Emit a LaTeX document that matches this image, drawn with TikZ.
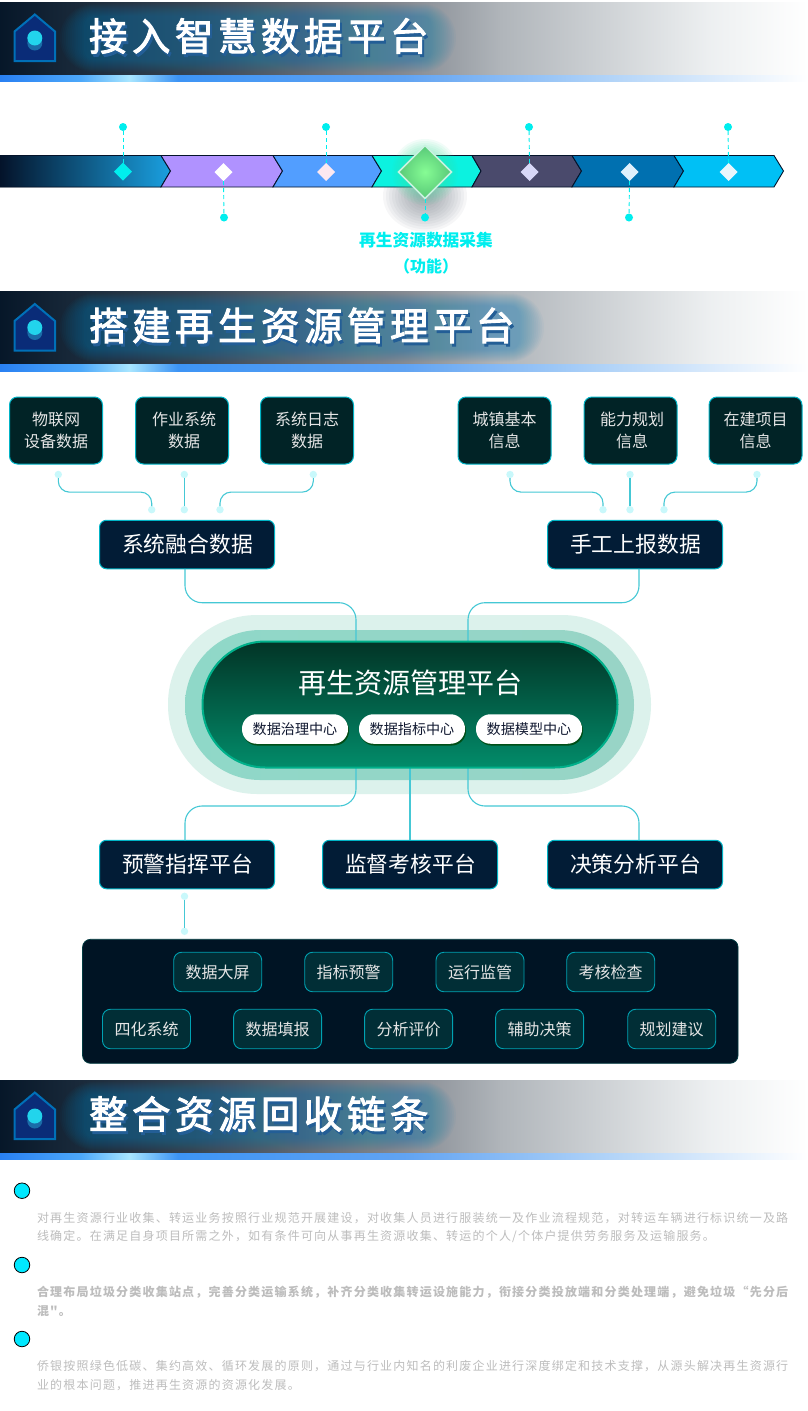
\documentclass[tikz,border=0pt]{standalone}
\usepackage{fontspec}
\setmainfont{Noto Sans CJK SC}
\newfontfamily\headfont[LetterSpace=12,FakeBold=2.4]{Noto Sans CJK SC}
\newfontfamily\bodyfont[LetterSpace=10]{Noto Sans CJK SC}
\usetikzlibrary{shapes.geometric,calc}
\definecolor{cyanline}{HTML}{00EEEE}
\definecolor{edgecol}{HTML}{00B4C6}
\definecolor{connline}{HTML}{45C8D5}
\definecolor{dotlight}{HTML}{C9F8FB}
\definecolor{srcfill}{HTML}{012326}
\definecolor{midfill}{HTML}{021C36}
\definecolor{tagfill}{HTML}{012E36}
\definecolor{pilltext}{HTML}{101830}
\definecolor{parac}{HTML}{BDBDBD}
\definecolor{HeadGlow}{HTML}{0E7FB8}
\definecolor{HeadShadow}{HTML}{235E96}
\definecolor{HouseEdge}{HTML}{0070B8}
\definecolor{HouseFill}{HTML}{0A2C78}
\definecolor{HouseDark}{HTML}{1A6CA8}
\definecolor{HouseLight}{HTML}{22D4EC}
\definecolor{AA}{HTML}{B092FF}
\definecolor{BB}{HTML}{529EFF}
\definecolor{CC}{HTML}{0CF2E0}
\definecolor{DD}{HTML}{4A4A6C}
\definecolor{EE}{HTML}{0070B0}
\definecolor{FF}{HTML}{00C0F5}
\definecolor{BarL}{HTML}{04132A}
\definecolor{BarM}{HTML}{0D6CA8}
\definecolor{BarR}{HTML}{1AA0E0}
\definecolor{GemC}{HTML}{FDE8F0}
\definecolor{GemD}{HTML}{D8D8F8}
\definecolor{GemE}{HTML}{DFF0FC}
\definecolor{GemF}{HTML}{EAF6FC}
\definecolor{GemEdge}{HTML}{C8F2E0}
\definecolor{GemIn}{HTML}{86FC94}
\definecolor{GemOut}{HTML}{58C878}
\definecolor{GlowG}{HTML}{40E0A0}
\definecolor{GlowS}{HTML}{6A7480}
\definecolor{BulletC}{HTML}{00E8FF}
\definecolor{PillOuter}{HTML}{DCF2EC}
\definecolor{PillMidA}{HTML}{8FD8C8}
\definecolor{PillMidB}{HTML}{98D4C6}
\definecolor{PillEdge}{HTML}{00B08A}
\definecolor{PillTop}{HTML}{023426}
\definecolor{PillBot}{HTML}{028C6A}
\definecolor{PanelEdge}{HTML}{003A40}
\definecolor{PanelFill}{HTML}{001424}
\pgfdeclarehorizontalshading{headgrad}{100bp}{
 rgb(0bp)=(.025,.09,.16);
 rgb(25bp)=(.025,.09,.16);
 rgb(37bp)=(.21,.27,.33);
 rgb(50bp)=(.52,.54,.57);
 rgb(56bp)=(.69,.71,.73);
 rgb(69bp)=(.93,.94,.945);
 rgb(75bp)=(1,1,1);
 rgb(100bp)=(1,1,1)}
\pgfdeclarehorizontalshading{stripgrad}{100bp}{
 rgb(0bp)=(.16,.50,.95);
 rgb(25bp)=(.16,.50,.95);
 rgb(30bp)=(.30,.66,.98);
 rgb(33bp)=(.66,.90,1);
 rgb(36bp)=(.24,.58,.96);
 rgb(50bp)=(.38,.64,.95);
 rgb(62bp)=(.68,.82,.97);
 rgb(75bp)=(1,1,1);
 rgb(100bp)=(1,1,1)}
\tikzset{
 x=1pt,y=-1pt,
 every node/.style={inner sep=0pt,outer sep=0pt},
 dot/.style={circle,fill=cyanline,minimum size=8pt},
 soft/.style={circle,fill=dotlight,minimum size=7.4pt},
 dashline/.style={draw=cyanline,line width=.9pt,dash pattern=on 4pt off 3pt},
 gem/.style={diamond,aspect=1,minimum size=18pt},
 chev/.style={draw=BarL,line width=.9pt},
 srcbox/.style={rectangle,draw=edgecol,line width=1pt,fill=srcfill,rounded corners=8pt,minimum width=93pt,minimum height=67pt,text=white!90!black,align=center,font=\fontsize{16}{22}\selectfont},
 midbox/.style={rectangle,draw=edgecol,line width=1pt,fill=midfill,rounded corners=7pt,minimum width=175pt,minimum height=48.5pt,text=white,font=\fontsize{21.8}{26}\selectfont},
 tagbox/.style={rectangle,draw=edgecol!90!black,line width=.9pt,fill=tagfill,rounded corners=8pt,minimum width=88pt,minimum height=39.5pt,text=white!90!black,font=\fontsize{16}{20}\selectfont},
 whitepill/.style={rectangle,fill=white,rounded corners=14.5pt,minimum width=106pt,minimum height=29.5pt,text=pilltext,font=\fontsize{14.1}{18}\selectfont},
 pillshadow/.style={rectangle,fill=black!75!green,rounded corners=14.5pt,minimum width=106pt,minimum height=29.5pt,opacity=.75},
 conn/.style={draw=connline,line width=1.1pt},
 bullet/.style={circle,fill=BulletC,draw=black,line width=.8pt,minimum size=15.5pt},
 para/.style={anchor=west,text=parac,font=\bodyfont\fontsize{12}{16}\selectfont},
 parab/.style={anchor=west,text=parac,font=\bodyfont\bfseries\fontsize{12}{16}\selectfont},
}
\newcommand{\sectionhead}[3]{%
 \fill[shading=headgrad] (0,#1) rectangle (808,#1+73);
 \fill[shading=stripgrad] (0,#1+73) rectangle (808,#1+79.5);
 \begin{scope}
 \clip (0,#1) rectangle (808,#1+73);
 \foreach \g in {24,22,...,0}{
   \fill[HeadGlow,opacity=.04,rounded corners=10pt+\g pt] (84-\g,#1+14-\g*.5) rectangle (#3+\g,#1+58+\g*.5);
 }
 \end{scope}
 \draw[line width=2pt,draw=HouseEdge,fill=HouseFill,line join=miter] (14.5,#1+29.5) -- (34.8,#1+12.5) -- (55,#1+29.5) -- (55,#1+59) -- (14.5,#1+59) -- cycle;
 \fill[HouseDark] (34.8,#1+41) circle[radius=7.5];
 \fill[HouseLight] (34.8,#1+36) circle[radius=7.5];
 \node[anchor=west,text=white,font=\headfont\fontsize{38.4}{40}\selectfont] at (89,#1+35.5) {\rlap{\raisebox{-3pt}{\kern2pt\textcolor{HeadShadow}{#2}}}#2};
}
\begin{document}
\begin{tikzpicture}
\useasboundingbox (0,0) rectangle (808,1411);
\fill[white] (0,0) rectangle (808,1411);
% ---------- section heads
\sectionhead{2}{接入智慧数据平台}{432}
\sectionhead{291.5}{搭建再生资源管理平台}{520}
\sectionhead{1080}{整合资源回收链条}{432}
% ---------- chevron bar
\foreach \g in {42,39,...,6}{
  \fill[GlowS,opacity=.06] (425,196) ellipse[x radius=\g,y radius=\g*.85];
}
\filldraw[chev,left color=BarL,middle color=BarM,right color=BarR] (0,155.5) -- (161,155.5) -- (170.5,171) -- (161,187) -- (0,187) -- cycle;
\filldraw[chev,fill=AA] (161,155.5) -- (273,155.5) -- (282.5,171) -- (273,187) -- (161,187) -- (170.5,171) -- cycle;
\filldraw[chev,fill=BB] (273,155.5) -- (372,155.5) -- (381.5,171) -- (372,187) -- (273,187) -- (282.5,171) -- cycle;
\filldraw[chev,fill=CC] (372,155.5) -- (472,155.5) -- (481,171) -- (472,187) -- (372,187) -- (381.5,171) -- cycle;
\filldraw[chev,fill=DD] (472,155.5) -- (572,155.5) -- (581.5,171) -- (572,187) -- (472,187) -- (481,171) -- cycle;
\filldraw[chev,fill=EE] (572,155.5) -- (674,155.5) -- (683.5,171) -- (674,187) -- (572,187) -- (581.5,171) -- cycle;
\filldraw[chev,fill=FF] (674,155.5) -- (774,155.5) -- (783.5,171) -- (774,187) -- (674,187) -- (683.5,171) -- cycle;
\foreach \g in {33,31,...,21}{
  \fill[GlowG,opacity=.07] (425,172) ellipse[x radius=\g,y radius=\g];
}
% dots and gems
\node[dot] (t1) at (123,127) {};
\node[dot] (t2) at (326,127) {};
\node[dot] (t3) at (529,127) {};
\node[dot] (t4) at (728,127) {};
\node[dot] (b1) at (224,217.5) {};
\node[dot] (b2) at (425,217.5) {};
\node[dot] (b3) at (629,217.5) {};
\node[gem,fill=cyanline] (g1) at (123,171.5) {};
\node[gem,fill=white] (g2) at (223.5,172) {};
\node[gem,fill=GemC] (g3) at (326,172) {};
\node[gem,fill=GemD] (g5) at (529.5,172) {};
\node[gem,fill=GemE] (g6) at (629.5,172) {};
\node[gem,fill=GemF] (g7) at (728.5,172) {};
\node[diamond,aspect=1,minimum size=53pt,draw=GemEdge,line width=1.6pt,inner color=GemIn,outer color=GemOut] (g4) at (425,172) {};
\draw[dashline] (t1) -- (g1.north);
\draw[dashline] (t2) -- (g3.north);
\draw[dashline] (t3) -- (g5.north);
\draw[dashline] (t4) -- (g7.north);
\draw[dashline] (g2.south) -- (b1);
\draw[dashline] (g4.south) -- (b2);
\draw[dashline] (g6.south) -- (b3);
\node[text=cyanline,font=\bfseries\fontsize{16.7}{20}\selectfont] (lab1) at (426,240) {再生资源数据采集};
\node[text=cyanline,font=\bfseries\fontsize{16}{20}\selectfont] (lab2) at (426,266) {（功能）};
% ---------- source boxes
\node[srcbox] (s1) at (56,430.5) {物联网\\设备数据};
\node[srcbox] (s2) at (182,430.5) {\hspace*{4pt}作业系统\\\hspace*{4pt}数据};
\node[srcbox] (s3) at (307,430.5) {系统日志\\数据};
\node[srcbox] (s4) at (504.5,430.5) {城镇基本\\信息};
\node[srcbox] (s5) at (630.5,430.5) {\hspace*{3pt}能力规划\\\hspace*{3pt}信息};
\node[srcbox] (s6) at (755.5,430.5) {在建项目\\信息};
\node[midbox] (m1) at (187,544.5) {\raisebox{-1pt}{\hspace*{1pt}系统融合数据}};
\node[midbox] (m2) at (635,544.5) {\raisebox{-1pt}{\hspace*{1pt}手工上报数据}};
% connector dots
\node[soft] (a1) at (58.3,474.5) {};
\node[soft] (a2) at (184.3,474.5) {};
\node[soft] (a3) at (313.3,474.5) {};
\node[soft] (a4) at (151.7,509.7) {};
\node[soft] (a5) at (184.3,509.7) {};
\node[soft] (a6) at (220,509.7) {};
\node[soft] (c1) at (510,474.5) {};
\node[soft] (c2) at (630,474.5) {};
\node[soft] (c3) at (757,474.5) {};
\node[soft] (c4) at (603,509.7) {};
\node[soft] (c5) at (630,509.7) {};
\node[soft] (c6) at (664,509.7) {};
\draw[conn,rounded corners=11pt] (a1.south) |- ($(a1.center)!.5!(a4.center)$) -| (a4.north);
\draw[conn] (a2.south) -- (a5.north);
\draw[conn,rounded corners=11pt] (a3.south) |- ($(a3.center)!.5!(a6.center)$) -| (a6.north);
\draw[conn,rounded corners=11pt] (c1.south) |- ($(c1.center)!.5!(c4.center)$) -| (c4.north);
\draw[conn] (c2.south) -- (c5.north);
\draw[conn,rounded corners=11pt] (c3.south) |- ($(c3.center)!.5!(c6.center)$) -| (c6.north);
% ---------- central pill
\node[rectangle,fill=PillOuter,rounded corners=89pt,minimum width=483pt,minimum height=179pt] (p0) at (409.5,704.5) {};
\node[rectangle,left color=PillMidA,right color=PillMidB,rounded corners=75pt,minimum width=449pt,minimum height=150pt] (p1) at (409.5,705) {};
\node[midbox] (d1) at (187,864.5) {\raisebox{-1pt}{\hspace*{1pt}预警指挥平台}};
\node[midbox] (d2) at (410,864.5) {\raisebox{-1pt}{\hspace*{1pt}监督考核平台}};
\node[midbox] (d3) at (635,864.5) {\raisebox{-1pt}{\hspace*{1pt}决策分析平台}};
\coordinate (inTopL) at (356,642);
\coordinate (inTopR) at (468,642);
\coordinate (outBotL) at (356,767);
\coordinate (outBotC) at (410,767);
\coordinate (outBotR) at (468,767);
\draw[conn,rounded corners=17pt] ([xshift=-2pt]m1.south) |- (270,602.7) -| (inTopL);
\draw[conn,rounded corners=17pt] ([xshift=4pt]m2.south) |- (550,602.7) -| (inTopR);
\draw[conn,rounded corners=17pt] (outBotL) |- (270,806) -| ([xshift=-2pt]d1.north);
\draw[conn] (outBotC) -- (d2.north);
\draw[conn,rounded corners=17pt] (outBotR) |- (550,806) -| ([xshift=4pt]d3.north);
\node[rectangle,draw=PillEdge,line width=2pt,top color=PillTop,bottom color=PillBot,rounded corners=63pt,minimum width=415pt,minimum height=126pt] (p2) at (410,704.5) {};
\node[text=white,font=\fontsize{28}{32}\selectfont] (ptitle) at (410,683) {再生资源管理平台};
\node[pillshadow] at (296,730.8) {};
\node[pillshadow] at (413,730.8) {};
\node[pillshadow] at (530,730.8) {};
\node[whitepill] (w1) at (295,729) {数据治理中心};
\node[whitepill] (w2) at (412,729) {数据指标中心};
\node[whitepill] (w3) at (529,729) {数据模型中心};
% ---------- lower panel
\node[soft,minimum width=6.5pt,minimum height=7.4pt] (e1) at (184.5,896.3) {};
\node[soft,minimum width=6.5pt,minimum height=7.4pt] (e2) at (184.5,931.3) {};
\draw[conn] (e1.south) -- (e2.north);
\node[rectangle,draw=PanelEdge,line width=.8pt,fill=PanelFill,rounded corners=8pt,minimum width=655.5pt,minimum height=124pt] (panel) at (410.3,1001.3) {};
\node[tagbox] (r1) at (217.7,972) {数据大屏};
\node[tagbox] (r2) at (348.7,972) {指标预警};
\node[tagbox] (r3) at (480,972) {运行监管};
\node[tagbox] (r4) at (610.7,972) {考核检查};
\node[tagbox] (q1) at (146.5,1029) {四化系统};
\node[tagbox] (q2) at (277.6,1029) {数据填报};
\node[tagbox] (q3) at (408.6,1029) {分析评价};
\node[tagbox] (q4) at (539.6,1029) {辅助决策};
\node[tagbox] (q5) at (671.7,1029) {规划建议};
% ---------- paragraphs
\node[bullet] (o1) at (22,1190.7) {};
\node[bullet] (o2) at (22,1265) {};
\node[bullet] (o3) at (22,1339) {};
\node[para] (l1) at (37,1217.7) {对再生资源行业收集、转运业务按照行业规范开展建设，对收集人员进行服装统一及作业流程规范，对转运车辆进行标识统一及路};
\node[para] (l2) at (37,1236.7) {线确定。在满足自身项目所需之外，如有条件可向从事再生资源收集、转运的个人/个体户提供劳务服务及运输服务。};
\node[parab] (l3) at (37,1292) {合理布局垃圾分类收集站点，完善分类运输系统，补齐分类收集转运设施能力，衔接分类投放端和分类处理端，避免垃圾“先分后};
\node[parab] (l4) at (37,1311) {混"。};
\node[para] (l5) at (37,1366) {侨银按照绿色低碳、集约高效、循环发展的原则，通过与行业内知名的利废企业进行深度绑定和技术支撑，从源头解决再生资源行};
\node[para] (l6) at (37,1385) {业的根本问题，推进再生资源的资源化发展。};
\end{tikzpicture}
\end{document}
